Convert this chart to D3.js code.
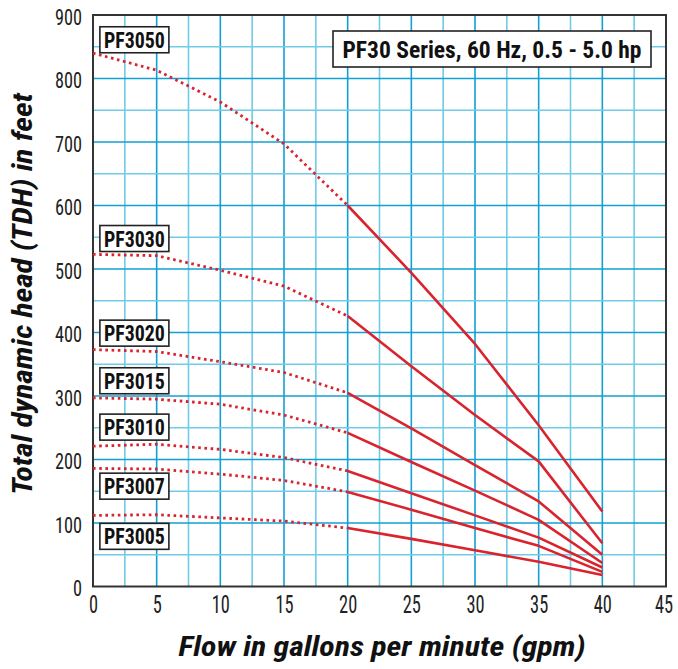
<!DOCTYPE html>
<html><head><meta charset="utf-8">
<script src="https://cdn.jsdelivr.net/npm/d3@7"></script>
<style>
html,body{margin:0;padding:0;background:#fff;}
svg{display:block;}
</style></head>
<body>
<svg id="chart" width="678" height="669"></svg>
<script>
// ---- data ----
const flow = [0, 5, 10, 15, 20, 25, 30, 35, 40];
const models = ["PF3050", "PF3030", "PF3020", "PF3015", "PF3010", "PF3007", "PF3005"];
const PF3050 = [840, 813, 763, 697, 600, 494, 382, 254, 118];
const PF3030 = [523, 521, 498, 473, 426, 347, 270, 197, 68];
const PF3020 = [373, 370, 354, 337, 305, 249, 191, 134, 50];
const PF3015 = [297, 295, 287, 270, 242, 196, 151, 105, 37];
const PF3010 = [221, 224, 216, 203, 182, 147, 112, 77, 30];
const PF3007 = [186, 185, 177, 167, 149, 121, 92, 64, 23];
const PF3005 = [112, 113, 108, 103, 92, 75, 57, 39, 18];
const labelHead = [861, 548, 399, 324, 251, 158, 79];
const labelFlow = 3.25;
const dottedUntil = 20;
const xTicks = [0, 5, 10, 15, 20, 25, 30, 35, 40, 45];
const yTicks = [0, 100, 200, 300, 400, 500, 600, 700, 800, 900];
const title = "PF30 Series, 60 Hz, 0.5 - 5.0 hp";
const xTitle = "Flow in gallons per minute (gpm)";
const yTitle = "Total dynamic head (TDH) in feet";
const series = [PF3050, PF3030, PF3020, PF3015, PF3010, PF3007, PF3005];

// ---- layout ----
const svg = d3.select("#chart");
const L = 93, R = 666, T = 15, B = 586.5;
const x = d3.scaleLinear().domain([0, 45]).range([L, R]);
const y = d3.scaleLinear().domain([0, 900]).range([B, T]);
const red = "#d9232d";
const font = "'Liberation Sans Narrow','Roboto Condensed','DejaVu Sans Condensed',Roboto,sans-serif";

// grid
const gx = d3.range(0, 45.01, 2.5), gy = d3.range(0, 900.1, 50);
const grid = svg.append("g");
grid.selectAll("line.v").data(gx.filter(d => d > 0 && d < 45)).join("line")
  .attr("x1", d => x(d)).attr("x2", d => x(d)).attr("y1", T).attr("y2", B)
  .attr("stroke", d => d % 5 === 0 ? "#12a0d3" : "#6fcbe8").attr("stroke-width", 1.6);
grid.selectAll("line.h").data(gy.filter(d => d > 0 && d < 900)).join("line")
  .attr("x1", L).attr("x2", R).attr("y1", d => y(d)).attr("y2", d => y(d))
  .attr("stroke", d => d % 100 === 0 ? "#12a0d3" : "#6fcbe8").attr("stroke-width", 1.6);

// frame
svg.append("rect").attr("x", L).attr("y", T).attr("width", R - L).attr("height", B - T)
  .attr("fill", "none").attr("stroke", "#333").attr("stroke-width", 2);

// axes tick labels
const xAxis = svg.append("g").attr("transform", `translate(0,${B})`)
  .call(d3.axisBottom(x).tickValues(xTicks).tickSize(0).tickPadding(8).tickFormat(d3.format("d")));
xAxis.select(".domain").remove();
xAxis.selectAll("text").attr("font-family", font).attr("font-size", 25.5).attr("fill", "#222")
  .attr("transform", d => `translate(${d === 45 ? -2.5 : 0},0) scale(0.72,1)`);
const yAxis = svg.append("g").attr("transform", `translate(${L},0)`)
  .call(d3.axisLeft(y).tickValues(yTicks).tickSize(0).tickPadding(11).tickFormat(d3.format("d")));
yAxis.select(".domain").remove();
yAxis.selectAll("text").attr("font-family", font).attr("font-size", 22.5).attr("fill", "#222")
  .attr("dy", "0.42em")
  .attr("textLength", d => String(d).length * 9).attr("lengthAdjust", "spacingAndGlyphs");

// curves
const line = d3.line().x(d => x(d[0])).y(d => y(d[1]));
series.forEach((vals, i) => {
  const pts = flow.map((f, j) => [f, vals[j]]);
  const dotted = pts.filter(p => p[0] <= dottedUntil);
  const solid = pts.filter(p => p[0] >= dottedUntil);
  svg.append("path").attr("d", line(dotted)).attr("fill", "none").attr("stroke", red)
    .attr("stroke-width", 2.8).attr("stroke-dasharray", "2.6,3.6");
  svg.append("path").attr("d", line(solid)).attr("fill", "none").attr("stroke", red)
    .attr("stroke-width", 2.6).attr("stroke-linejoin", "round");
});

// model labels
models.forEach((m, i) => {
  const cx = x(labelFlow), cy = y(labelHead[i]);
  const g = svg.append("g");
  g.append("rect").attr("x", cx - 34.5).attr("y", cy - 13).attr("width", 69).attr("height", 26)
    .attr("fill", "#fff").attr("stroke", "#222").attr("stroke-width", 1.6);
  g.append("text").attr("x", cx).attr("y", cy + 8).attr("text-anchor", "middle")
    .attr("font-family", font).attr("font-weight", "bold").attr("font-size", 22.5)
    .attr("textLength", 61).attr("lengthAdjust", "spacingAndGlyphs")
    .attr("fill", "#111").text(m);
});

// title box
const tg = svg.append("g");
tg.append("rect").attr("x", 333).attr("y", 31).attr("width", 318).attr("height", 36)
  .attr("fill", "#fff").attr("stroke", "#222").attr("stroke-width", 1.6);
tg.append("text").attr("x", 492).attr("y", 57.5).attr("text-anchor", "middle")
  .attr("font-family", font).attr("font-weight", "bold").attr("font-size", 24.5)
  .attr("textLength", 299).attr("lengthAdjust", "spacingAndGlyphs")
  .attr("fill", "#111").text(title);

// axis titles
svg.append("text").attr("x", 382).attr("y", 656).attr("text-anchor", "middle")
  .attr("font-family", font).attr("font-weight", "bold").attr("font-style", "italic")
  .attr("font-size", 28).attr("textLength", 407).attr("lengthAdjust", "spacingAndGlyphs")
  .attr("fill", "#111").text(xTitle);
svg.append("text").attr("transform", "translate(32,294) rotate(-90)").attr("text-anchor", "middle")
  .attr("font-family", font).attr("font-weight", "bold").attr("font-style", "italic")
  .attr("font-size", 28).attr("textLength", 402).attr("lengthAdjust", "spacingAndGlyphs")
  .attr("fill", "#111").text(yTitle);
</script>
</body></html>
